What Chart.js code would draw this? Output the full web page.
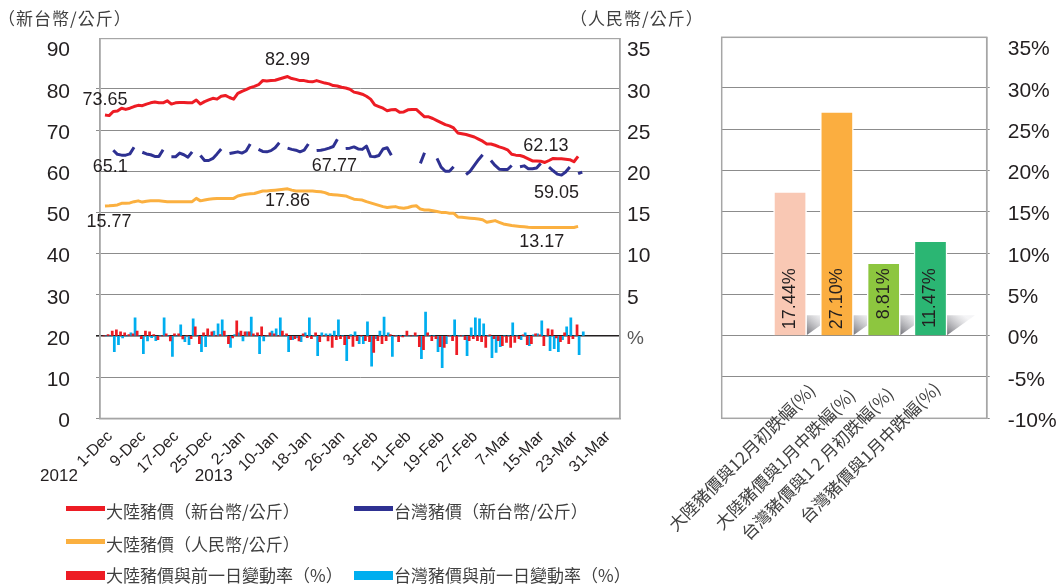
<!DOCTYPE html>
<html><head><meta charset="utf-8">
<script src="https://cdn.jsdelivr.net/npm/chart.js@4.4.1/dist/chart.umd.min.js"></script>
<style>
html,body{margin:0;padding:0;background:#fff;width:1058px;height:585px;overflow:hidden;position:relative;font-family:"Noto Sans CJK TC","Liberation Sans",sans-serif;}
#c1{position:absolute;left:0;top:0;}
#c2{position:absolute;left:630px;top:0;}
.t{position:absolute;white-space:nowrap;color:#404040;font-size:17px;line-height:20px;}
.sw{position:absolute;}
</style></head><body>
<canvas id="c1" width="700" height="585"></canvas>
<canvas id="c2" width="428" height="585"></canvas>
<div class="t" style="left:-2px;top:8px;letter-spacing:1px;">（新台幣/公斤）</div>
<div class="t" style="left:570px;top:8px;letter-spacing:1px;">（人民幣/公斤）</div>
<div id="legend"></div>
<script>
// ---------- data ----------
const X_TICK_DAYS = [0,8,16,24,32,40,48,56,64,72,80,88,96,104,112,120];
const X_TICK_LABELS = ['1-Dec','9-Dec','17-Dec','25-Dec','2-Jan','10-Jan','18-Jan','26-Jan','3-Feb','11-Feb','19-Feb','27-Feb','7-Mar','15-Mar','23-Mar','31-Mar'];
const YEAR_LABELS = ['2012','2013'];
const YEAR_DAYS = [0,32];
const LEFT_TICKS = [0,10,20,30,40,50,60,70,80,90];
const RIGHT_TICKS = [-10,-5,0,5,10,15,20,25,30,35];
const PCT_TICKS = [-10,-5,0,5,10,15,20,25,30,35];

// Mainland pig price, NT$/kg (day 0 = 1-Dec-2012)
const CN_PRICE_NTD = [73.65,73.5,74.5,74.6,75.3,75.0,75.3,75.7,76.0,75.9,
 76.3,76.6,76.8,76.6,76.6,77.1,76.3,76.6,76.7,76.7,
 76.6,76.6,77.3,76.3,76.9,77.3,77.7,77.5,78.2,78.4,
 77.9,77.5,78.9,79.4,79.8,80.3,80.6,81.0,82.0,81.9,
 82.0,82.1,82.4,82.7,82.99,82.5,82.3,82.0,82.0,81.8,
 81.7,82.0,81.7,81.4,81.2,80.8,80.7,80.4,80.2,79.9,
 79.2,79.0,78.7,78.2,77.5,76.1,75.7,75.3,74.7,74.9,
 75.0,74.3,74.4,74.9,75.0,75.0,74.1,73.2,73.2,72.8,
 72.3,71.8,71.3,71.0,70.5,69.3,69.1,68.9,68.6,68.3,
 67.8,67.3,66.6,66.6,66.3,65.9,65.6,65.2,64.1,63.9,
 63.8,63.5,63.0,62.5,62.5,62.4,62.13,62.6,63.1,63.0,
 63.0,62.9,62.8,62.3,63.6];
// Taiwan pig price, NT$/kg (null = market closed)
const TW_PRICE_NTD = [null,null,65.1,64.1,63.9,63.9,64.2,65.8,null,64.6,
 64.2,64.0,63.6,63.6,65.2,null,63.5,63.5,64.4,64.0,
 63.4,64.7,null,63.8,62.6,62.6,63.1,64.2,65.4,null,
 64.3,64.5,64.7,64.4,64.9,66.6,null,65.3,64.8,64.7,
 65.0,65.7,66.9,null,65.6,65.3,65.1,64.7,65.1,66.6,
 null,65.0,65.1,65.3,65.6,66.0,67.77,null,65.5,65.6,
 65.9,65.4,65.3,66.1,63.6,63.5,63.8,65.4,65.7,63.9,
 null,null,null,null,null,null,61.9,64.5,null,null,
 63.1,61.0,60.0,60.0,61.1,null,null,59.2,60.0,61.4,
 62.8,64.0,null,62.6,61.4,60.5,60.4,60.4,61.4,null,
 61.1,61.3,60.6,60.6,60.8,61.9,null,61.0,60.1,59.3,
 59.05,59.8,61.0,null,59.4,59.8];
// Mainland pig price, RMB/kg
const CN_PRICE_RMB = [15.77,15.8,15.85,15.9,16.1,16.1,16.15,16.3,16.4,16.25,
 16.35,16.4,16.4,16.4,16.35,16.3,16.3,16.3,16.3,16.3,
 16.3,16.3,16.7,16.4,16.5,16.6,16.65,16.7,16.7,16.7,
 16.7,16.7,17.0,17.1,17.2,17.25,17.3,17.45,17.6,17.6,
 17.65,17.7,17.75,17.8,17.86,17.7,17.6,17.6,17.6,17.6,
 17.6,17.55,17.5,17.4,17.2,17.15,17.1,17.05,17.0,16.8,
 16.6,16.55,16.5,16.3,16.15,16.0,15.85,15.7,15.6,15.65,
 15.7,15.55,15.5,15.6,15.75,15.8,15.4,15.3,15.3,15.2,
 15.1,15.0,15.0,14.9,14.9,14.45,14.4,14.35,14.3,14.25,
 14.2,14.1,13.8,13.9,14.0,13.8,13.6,13.5,13.4,13.35,
 13.3,13.25,13.2,13.17,13.17,13.17,13.17,13.17,13.17,13.17,
 13.17,13.17,13.17,13.17,13.3];
// day-on-day change (%)
const CN_CHANGE = [0,0.16,0.6,0.73,0.5,0.37,0.16,0.25,0.6,-0.33,
 0.6,0.5,0.16,-0.45,0,0.25,-0.6,0.25,0.25,-0.37,
 0,-0.33,1.1,-0.93,0.37,0.85,0.5,0,0.16,0.6,
 -0.93,-0.25,1.83,0.6,0.5,0.5,0.25,0.37,1.1,0,
 0.37,0.25,0,0.6,0.25,-0.45,-0.33,-0.6,0.25,-0.2,
 -0.33,0.37,-0.7,0,-0.6,-1.4,-0.45,-0.33,-1.05,-0.33,
 -1.26,-0.57,0,-0.57,-0.7,-2.0,-0.57,-0.93,-0.57,0.16,
 0,-0.7,-0.12,0.6,0,0.37,-1.3,-1.67,0.37,-0.57,
 -0.33,-1.3,-1.4,0,-0.57,-2.28,0,-0.45,-0.57,-0.33,
 -0.57,-0.7,-1.4,0.12,-0.33,-0.57,-1.18,-0.8,-1.4,-0.8,
 -0.33,0.12,-1.05,-0.93,0.25,0.12,-1.18,0.85,0.73,-0.25,
 -0.7,0.37,-0.93,-0.33,1.34];
const TW_CHANGE = [0,0,-1.9,-1.05,-0.25,0,0.37,2.2,0,-2.15,
 -0.6,-0.2,-0.57,0,2.2,0,-2.5,0,1.35,-0.7,
 -1.05,2.07,0,-1.9,-1.3,0,0.6,1.46,1.95,0,
 -1.4,0.16,0.37,-0.6,0.5,2.3,0,-2.15,-0.6,0,
 0.6,0.85,2.2,0,-1.9,-0.45,-0.2,-0.7,0.37,2.2,
 0,-2.4,0.37,0.25,0.25,0.6,1.95,0,-3.0,0.16,
 0.5,-0.93,-0.93,1.7,-3.66,-0.33,0.6,2.3,0.37,-2.5,
 0,0,0,0,0,0,-2.76,2.9,0,0,
 -1.9,-3.86,-0.93,0,1.95,0,0,-2.4,0.98,2.2,
 2.07,1.46,0,-2.64,-2.0,-1.3,0,0,1.6,0,
 -0.45,0.37,-1.18,0.12,0.25,1.83,0,-1.8,-1.54,-1.9,
 -0.45,1.1,2.2,0,-2.28,0.5];

// right panel
const CAT_LABELS = ['大陸豬價與12月初跌幅(%)','大陸豬價與1月中跌幅(%)','台灣豬價與1 2 月初跌幅(%)','台灣豬價與1月中跌幅(%)'];
const CAT_VALUES = [17.44, 27.10, 8.81, 11.47];
const CAT_COLORS = ['#F9C8B4','#FBAE40','#8DC63F','#2BB673'];

// legend
const LEGEND_TEXT = ['大陸豬價（新台幣/公斤）','台灣豬價（新台幣/公斤）','大陸豬價（人民幣/公斤）','大陸豬價與前一日變動率（%）','台灣豬價與前一日變動率（%）'];

// ---------- helpers ----------
const NUM = "'Liberation Sans', Arial, sans-serif";
const CJK = "'Noto Sans CJK TC', 'Liberation Sans', sans-serif";
const toXY = arr => arr.map((v,i)=>({x:i,y:v}));

const plotFrame = {
  id:'plotFrame',
  beforeDatasetsDraw(chart, args, o){
    const {ctx, chartArea:a} = chart;
    ctx.save(); ctx.strokeStyle=o.color; ctx.lineWidth=o.width;
    ctx.strokeRect(a.left, a.top, a.right-a.left, a.bottom-a.top);
    ctx.restore();
  }
};
const pointLabels = {
  id:'pointLabels',
  afterDatasetsDraw(chart, args, o){
    const {ctx} = chart;
    ctx.save(); ctx.font=o.font; ctx.fillStyle=o.color; ctx.textAlign='center'; ctx.textBaseline='middle';
    o.items.forEach(it=>{
      const el = chart.getDatasetMeta(it.ds).data[it.i];
      const v = chart.data.datasets[it.ds].data[it.i].y;
      ctx.fillText(String(v), el.x+it.dx, el.y+it.dy);
    });
    ctx.restore();
  }
};
const yearLabels = {
  id:'yearLabels',
  afterDraw(chart, args, o){
    const {ctx} = chart; const xs = chart.scales.x;
    ctx.save(); ctx.font=o.font; ctx.fillStyle=o.color; ctx.textAlign='center'; ctx.textBaseline='middle';
    YEAR_LABELS.forEach((t,i)=>ctx.fillText(t, xs.getPixelForValue(YEAR_DAYS[i])+o.dx[i], o.y));
    ctx.restore();
  }
};
const barShadows = {
  id:'barShadows',
  beforeDatasetsDraw(chart, args, o){
    const {ctx} = chart;
    chart.getDatasetMeta(0).data.forEach(el=>{
      const r = el.x + el.width/2, b = el.base;
      const g = ctx.createLinearGradient(r, b, r+o.w*0.6, b-o.h);
      g.addColorStop(0,'rgba(105,105,112,0.95)'); g.addColorStop(1,'rgba(235,235,238,0.5)');
      ctx.save(); ctx.fillStyle=g; ctx.beginPath();
      ctx.moveTo(r, b); ctx.lineTo(r, b-o.h); ctx.lineTo(r+o.w, b-o.h); ctx.closePath(); ctx.fill(); ctx.restore();
    });
  }
};
const barValueLabels = {
  id:'barValueLabels',
  afterDatasetsDraw(chart, args, o){
    const {ctx} = chart;
    ctx.save(); ctx.font=o.font; ctx.fillStyle=o.color; ctx.textAlign='right'; ctx.textBaseline='middle';
    chart.getDatasetMeta(0).data.forEach((el,i)=>{
      const v = chart.data.datasets[0].data[i].y;
      ctx.save(); ctx.translate(el.x, el.base - o.rise); ctx.rotate(-Math.PI/2);
      ctx.fillText(v.toFixed(2)+'%', 0, 0); ctx.restore();
    });
    ctx.restore();
  }
};
const catLabels = {
  id:'catLabels',
  afterDraw(chart, args, o){
    const {ctx} = chart; const xs = chart.scales.x;
    ctx.save(); ctx.font=o.font; ctx.fillStyle=o.color; ctx.textAlign='right'; ctx.textBaseline='top';
    CAT_LABELS.forEach((t,i)=>{
      ctx.save(); ctx.translate(xs.getPixelForValue(i)+o.dx[i], o.y[i]); ctx.rotate(-Math.PI/4);
      ctx.fillText(t,0,0); ctx.restore();
    });
    ctx.restore();
  }
};

// ---------- left chart ----------
new Chart(document.getElementById('c1'), {
  data:{ datasets:[
    {type:'line', label:LEGEND_TEXT[0], data:toXY(CN_PRICE_NTD), yAxisID:'y', borderColor:'#ED1C24', borderWidth:3, pointRadius:0, tension:0, borderJoinStyle:'round', order:0},
    {type:'line', label:LEGEND_TEXT[1], data:toXY(TW_PRICE_NTD), yAxisID:'y', borderColor:'#2E3192', borderWidth:3, pointRadius:0, tension:0, spanGaps:false, borderJoinStyle:'round', order:0},
    {type:'line', label:LEGEND_TEXT[2], data:toXY(CN_PRICE_RMB), yAxisID:'y1', borderColor:'#FBB040', borderWidth:3, pointRadius:0, tension:0, borderJoinStyle:'round', order:0},
    {type:'bar', label:LEGEND_TEXT[3], data:toXY(CN_CHANGE), yAxisID:'y1', backgroundColor:'#ED1C24', categoryPercentage:1, barPercentage:1, order:1},
    {type:'bar', label:LEGEND_TEXT[4], data:toXY(TW_CHANGE), yAxisID:'y1', backgroundColor:'#00AEEF', categoryPercentage:1, barPercentage:1, order:1}
  ]},
  options:{
    responsive:false, animation:false, events:[],
    layout:{padding:{left:0, right:0, top:37.3, bottom:0}},
    plugins:{
      legend:{display:false}, tooltip:{enabled:false},
      plotFrame:{color:'#A6A6A6', width:1.2},
      pointLabels:{font:"18px "+NUM, color:'#231F20', items:[
        {ds:0,i:0,dx:0,dy:-15},{ds:0,i:44,dx:0,dy:-16},{ds:0,i:106,dx:1,dy:-16},
        {ds:1,i:2,dx:-3,dy:17},{ds:1,i:56,dx:-3,dy:27},{ds:1,i:110,dx:-5,dy:18},
        {ds:2,i:0,dx:4,dy:16},{ds:2,i:44,dx:0,dy:12},{ds:2,i:105,dx:1,dy:15}
      ]},
      yearLabels:{font:"17px "+NUM, color:'#231F20', y:476, dx:[-46,-24]}
    },
    scales:{
      x:{type:'linear', offset:false, min:-1.2, max:124.1,
        afterBuildTicks:s=>{s.ticks = X_TICK_DAYS.map(v=>({value:v}));},
        afterFit:s=>{s.height = 585-418.3;},
        grid:{display:false, drawTicks:false, offset:false}, border:{display:true, color:'#A6A6A6', width:1.5},
        ticks:{autoSkip:false, minRotation:45, maxRotation:45, padding:9, labelOffset:5, color:'#231F20', font:{family:NUM, size:16},
          callback:v=>X_TICK_LABELS[X_TICK_DAYS.indexOf(v)]}
      },
      y:{position:'left', min:0, max:92.2,
        afterBuildTicks:s=>{s.ticks = LEFT_TICKS.map(v=>({value:v}));},
        afterFit:s=>{s.width = 100;},
        grid:{color:c=>c.tick.value===20?'#231F20':(c.tick.value===90?'rgba(0,0,0,0)':'#8C8C8C'), lineWidth:c=>c.tick.value===20?1.6:1, tickLength:4},
        border:{display:true, color:'#A6A6A6', width:1.5},
        ticks:{padding:26, labelOffset:3, color:'#231F20', font:{family:NUM, size:21}}
      },
      y1:{position:'right', min:-10, max:36.1,
        afterBuildTicks:s=>{s.ticks = RIGHT_TICKS.map(v=>({value:v}));},
        afterFit:s=>{s.width = 80;},
        grid:{drawOnChartArea:false, drawTicks:false},
        border:{display:true, color:'#A6A6A6', width:1.5},
        ticks:{padding:7, labelOffset:3, color:c=>c.tick.value===0?'#595959':'#231F20',
          font:c=>({family:NUM, size:c.tick && c.tick.value===0?19:21}),
          callback:v=>v>0?String(v):(v===0?'%':'')}
      }
    }
  },
  plugins:[plotFrame, pointLabels, yearLabels]
});

// ---------- right chart ----------
new Chart(document.getElementById('c2'), {
  type:'bar',
  data:{ datasets:[{ data:toXY(CAT_VALUES), backgroundColor:CAT_COLORS, borderColor:'#FFFFFF', borderWidth:1.5, borderSkipped:'start', barThickness:33 }] },
  options:{
    responsive:false, animation:false, events:[],
    layout:{padding:{left:91.7, right:0, top:37.3, bottom:585-418.3}},
    plugins:{
      legend:{display:false}, tooltip:{enabled:false},
      plotFrame:{color:'#A6A6A6', width:1.5},
      barShadows:{w:28, h:20},
      barValueLabels:{font:"18px "+NUM, color:'#231F20', rise:67},
      catLabels:{font:"17px "+CJK, color:'#404040', dx:[16,9,0.5,0.5], y:[381,386,384.5,379.5]}
    },
    scales:{
      x:{type:'linear', display:false, offset:false, min:-1.46, max:4.2},
      y:{position:'right', min:-10, max:36.1,
        afterBuildTicks:s=>{s.ticks = PCT_TICKS.map(v=>({value:v}));},
        afterFit:s=>{s.width = 71.3;},
        grid:{color:c=>c.tick.value===35?'rgba(0,0,0,0)':'#8C8C8C', lineWidth:1, tickLength:3},
        border:{display:true, color:'#A6A6A6', width:1.5},
        ticks:{padding:18, labelOffset:3, color:'#231F20', font:{family:NUM, size:21}, callback:v=>v+'%'}
      }
    }
  },
  plugins:[plotFrame, barShadows, barValueLabels, catLabels]
});

// ---------- legend (HTML) ----------
const LEGEND_ITEMS = [
  {c:'#ED1C24', kind:'line', x:66, y:508, ty:511},
  {c:'#2E3192', kind:'line', x:354, y:508, ty:511},
  {c:'#FBB040', kind:'line', x:66, y:541.5, ty:544},
  {c:'#ED1C24', kind:'box', x:66, y:575.5, ty:575},
  {c:'#00AEEF', kind:'box', x:354, y:575.5, ty:575}
];
const lg = document.getElementById('legend');
LEGEND_ITEMS.forEach((it,i)=>{
  const h = it.kind==='line'?5:9;
  const sw = document.createElement('div'); sw.className='sw';
  sw.style.cssText = `left:${it.x}px;top:${it.y-h/2}px;width:39px;height:${h}px;background:${it.c};`;
  lg.appendChild(sw);
  const t = document.createElement('div'); t.className='t';
  t.style.left = (it.x+40)+'px'; t.style.top = (it.ty-10)+'px';
  t.textContent = LEGEND_TEXT[i];
  lg.appendChild(t);
});
</script>
</body></html>
